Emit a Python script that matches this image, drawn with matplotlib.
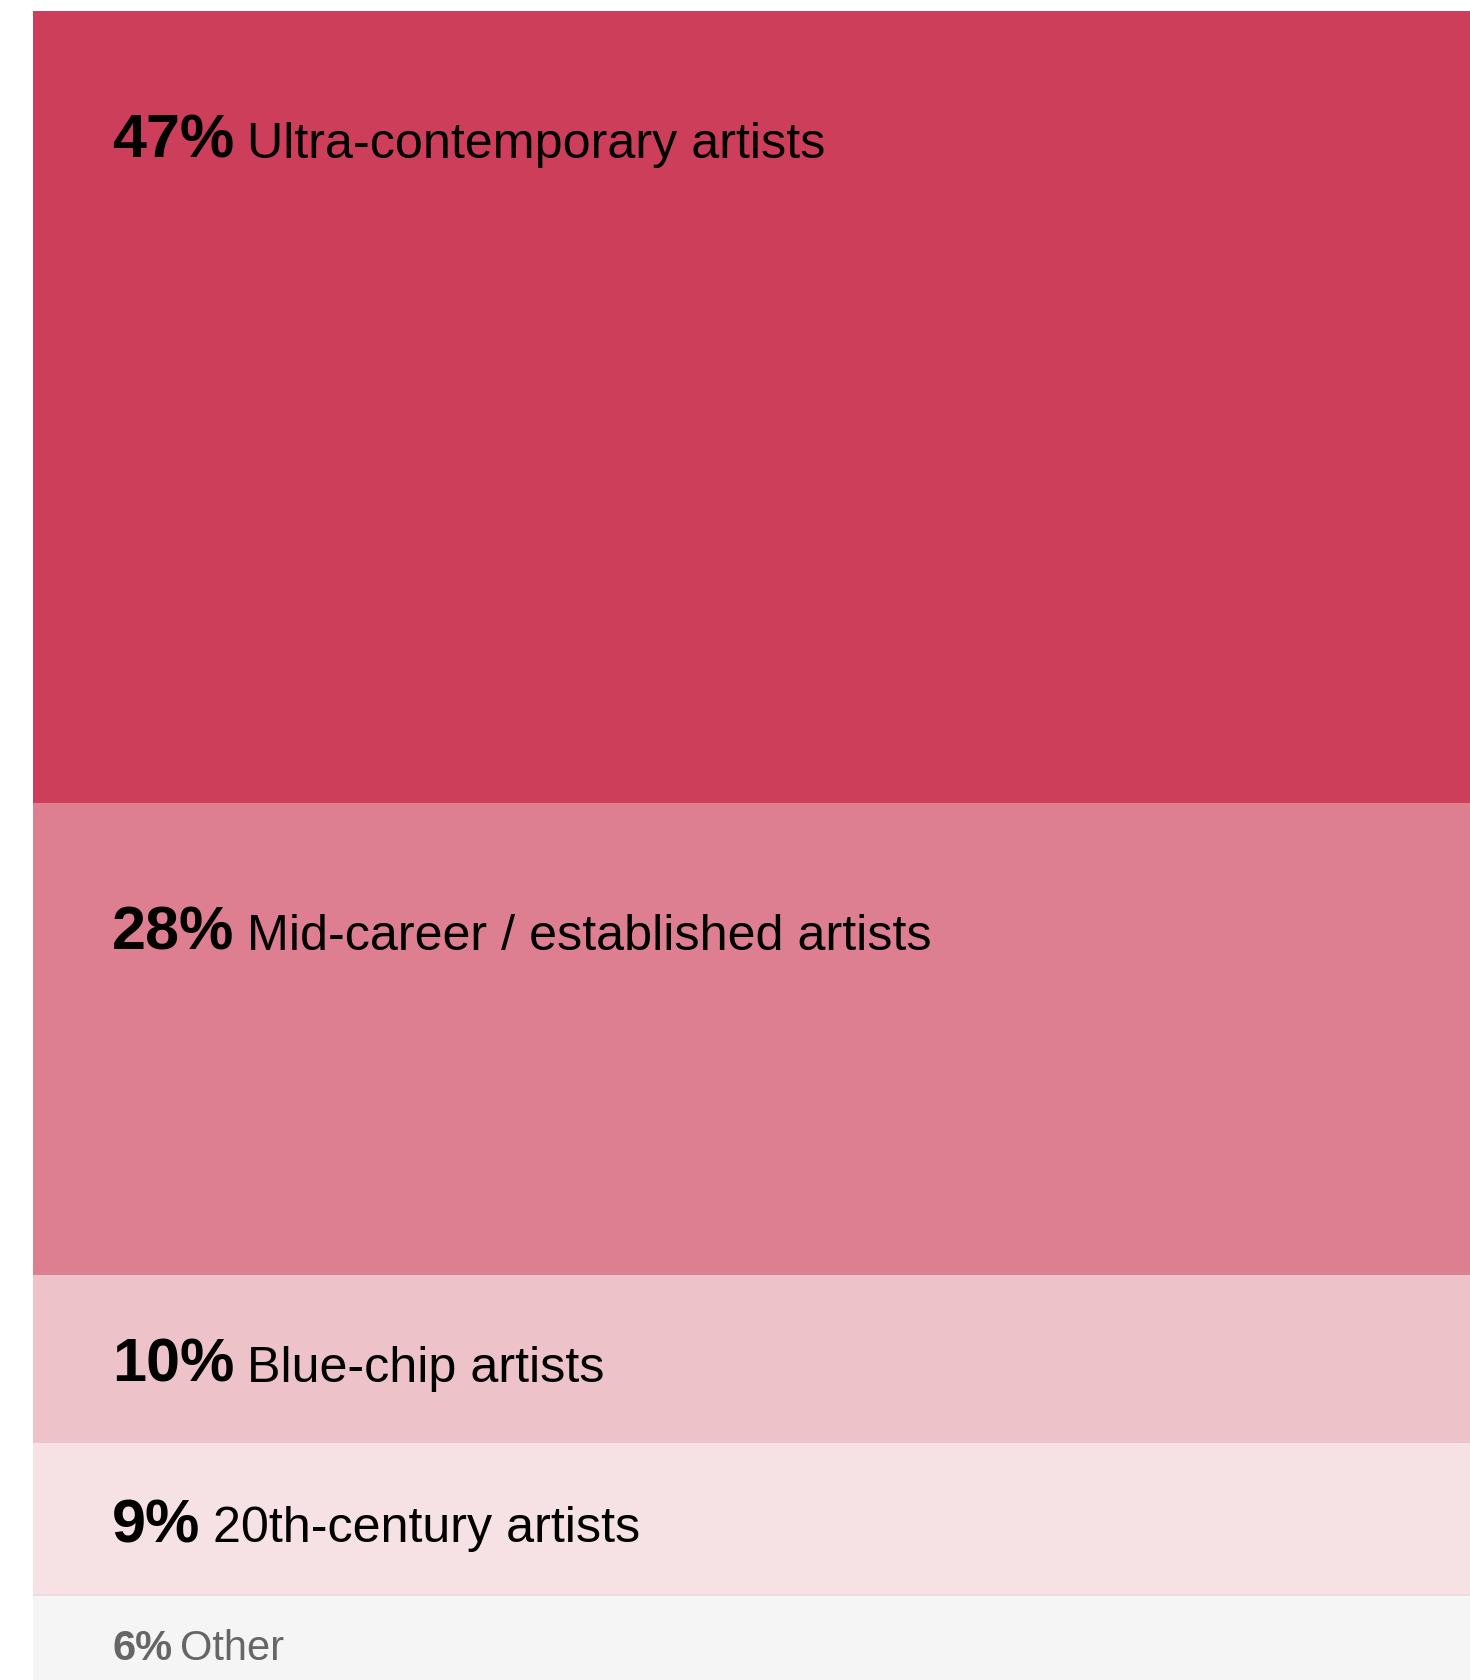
import matplotlib
matplotlib.use("Agg")
import matplotlib.pyplot as plt
import matplotlib.transforms as mtransforms

# share of sales by artist category (%)
shares = [47, 28, 10, 9, 6]
labels = ["Ultra-contemporary artists", "Mid-career / established artists",
          "Blue-chip artists", "20th-century artists", "Other"]
colors = ["#cc3e59", "#de7f91", "#edc3c9", "#f6e1e4", "#f5f5f5"]

plt.rcParams['font.family'] = ['Liberation Sans', 'DejaVu Sans']

W, H = 1470, 1681
fig = plt.figure(figsize=(W / 100, H / 100), dpi=100)
fig.patch.set_facecolor("white")

# stacked column runs off the bottom edge a little
left_px, top_px, bottom_px = 33, 12, 1697
ax = fig.add_axes([left_px / W, (H - bottom_px) / H,
                   1 - left_px / W, (bottom_px - top_px) / H])
ax.set_xlim(-0.5, 0.5)
ax.set_ylim(100, 0)
ax.axis("off")

px_per_unit = (bottom_px - top_px) / 100.0
trans = mtransforms.blended_transform_factory(ax.transAxes, ax.transData)
x_text = (112 - left_px) / (W - left_px)

renderer = fig.canvas.get_renderer()
start = 0
for i, (val, lab, col) in enumerate(zip(shares, labels, colors)):
    ax.bar(0, val, bottom=start, width=1, color=col, linewidth=0)
    h_px = val * px_per_unit
    center_px = min(h_px / 2, 124)
    other = (i == len(shares) - 1)
    if other:
        ax.plot([-0.5, 0.5], [start, start], color="#efd6da", lw=1.2)
        pct_size, lab_size, txt_col, cap = 30, 30, "#666666", 14
        gap = 8
    else:
        pct_size, lab_size, txt_col, cap = 44, 36.2, "black", 22
        gap = 13
    y = start + (center_px + cap) / px_per_unit
    t = ax.text(x_text, y, f"{val}%", transform=trans, fontsize=pct_size,
                fontweight="bold", color=txt_col, va="baseline", ha="left")
    ext = t.get_window_extent(renderer=renderer)
    off = mtransforms.offset_copy(trans, fig=fig, x=ext.width + gap, y=0, units="dots")
    ax.text(x_text, y, lab, transform=off, fontsize=lab_size,
            color=txt_col, va="baseline", ha="left")
    start += val

fig.savefig("out.png", dpi=100, facecolor="white")
